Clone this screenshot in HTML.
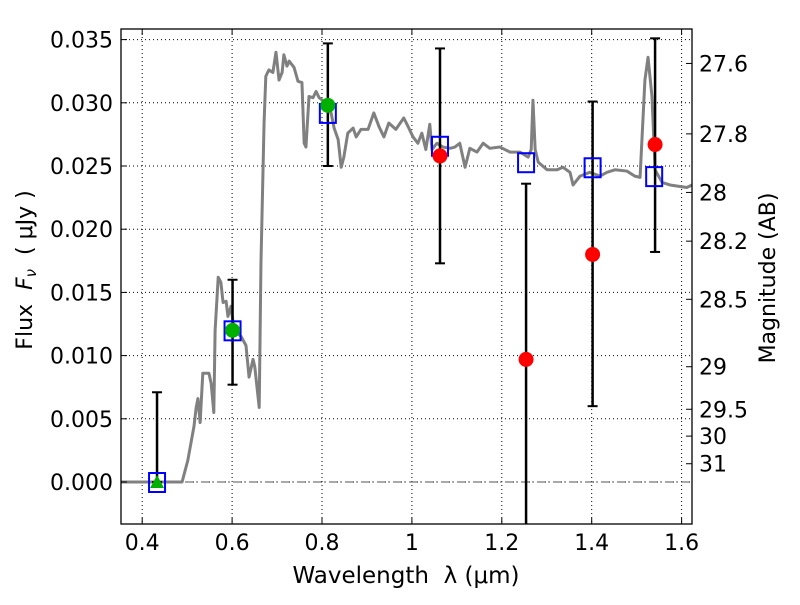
<!DOCTYPE html>
<html><head><meta charset="utf-8"><style>
body{margin:0;background:#fff}
svg text{font-family:"DejaVu Sans","Liberation Sans",sans-serif;fill:#000}
</style></head><body>
<svg id="chart" width="800" height="600" xmlns="http://www.w3.org/2000/svg">
<rect width="800" height="600" fill="#fff"/>
<g id="grid"></g>
<g id="plot"></g>
<rect x="121" y="29" width="571" height="495" fill="none" stroke="#000" stroke-width="1.3"/>
<g id="axes"></g>
<text x="406" y="583" font-size="23" text-anchor="middle" xml:space="preserve">Wavelength  λ (μm)</text>
<text transform="translate(32,270) rotate(-90)" font-size="22" text-anchor="middle" xml:space="preserve">Flux  <tspan font-style="italic">F</tspan><tspan font-size="15" dy="4" font-style="italic">ν</tspan><tspan dy="-4">  ( μJy )</tspan></text>
<text transform="translate(775,278) rotate(-90)" font-size="22" text-anchor="middle">Magnitude (AB)</text>
</svg>
<script>
const specLam=[0.353,0.4887,0.5014,0.5152,0.5201,0.5240,0.5289,0.5348,0.5417,0.5485,0.5534,0.5593,0.5622,0.5691,0.5750,0.5799,0.5867,0.5907,0.5975,0.6044,0.6201,0.6309,0.6377,0.6466,0.6505,0.6603,0.6642,0.6711,0.6750,0.6819,0.6907,0.6976,0.7044,0.7113,0.7152,0.7221,0.7270,0.7378,0.7466,0.7554,0.7603,0.7643,0.7711,0.7799,0.7868,0.7937,0.8045,0.8202,0.8270,0.8359,0.8427,0.8486,0.8574,0.8692,0.8760,0.8868,0.9025,0.9153,0.9270,0.9378,0.9486,0.9643,0.9819,0.9918,1.0025,1.0133,1.0221,1.0310,1.0398,1.0447,1.0555,1.0692,1.0849,1.0957,1.1065,1.1183,1.1290,1.1447,1.1585,1.1732,1.1957,1.2183,1.2408,1.2585,1.2654,1.2693,1.2742,1.2811,1.3007,1.3232,1.3360,1.3517,1.3586,1.3742,1.3958,1.4184,1.4340,1.4517,1.4782,1.4959,1.5076,1.5184,1.5253,1.5341,1.5410,1.5566,1.5743,1.6115,1.6233];
const specFlux=[0,0,0.0017,0.0044,0.0059,0.0066,0.0047,0.0086,0.0086,0.0086,0.0078,0.0055,0.012,0.0162,0.0158,0.0142,0.0143,0.0131,0.0139,0.012,0.0115,0.0108,0.0083,0.0097,0.0091,0.0059,0.0173,0.0284,0.0321,0.0326,0.0324,0.034,0.0318,0.0324,0.0338,0.0329,0.0333,0.0328,0.0317,0.0316,0.0268,0.0265,0.0305,0.0304,0.0309,0.0304,0.0301,0.0292,0.028,0.0271,0.0249,0.0257,0.0276,0.028,0.0273,0.0279,0.0279,0.0292,0.0281,0.0273,0.0284,0.0279,0.0288,0.0281,0.0273,0.0268,0.0276,0.0263,0.0283,0.0263,0.0268,0.0265,0.0264,0.0265,0.0268,0.0249,0.0264,0.0261,0.0268,0.0264,0.0265,0.0261,0.0261,0.0257,0.0263,0.0302,0.0263,0.0253,0.0247,0.0247,0.0249,0.0245,0.0235,0.0242,0.0245,0.0242,0.0245,0.0247,0.0246,0.0242,0.0241,0.0318,0.0336,0.0305,0.0247,0.0237,0.0235,0.0233,0.0235];
const modelLam=[0.433,0.601,0.813,1.0625,1.254,1.402,1.539];
const modelFlux=[0,0.012,0.0292,0.0266,0.0253,0.0249,0.0242];
const obsLam=[0.433,0.601,0.813,1.0625,1.254,1.402,1.541];
const obsFlux=[0,0.012,0.0298,0.0258,0.0097,0.018,0.0267];
const errLo=[0,0.0077,0.0250,0.0173,-0.01,0.006,0.0182];
const errHi=[0.0071,0.0160,0.0347,0.0343,0.0236,0.0301,0.0351];
const obsType=['tri','green','green','red','red','red','red'];
const xTicks=[0.4,0.6,0.8,1,1.2,1.4,1.6];
const xTickLabels=['0.4','0.6','0.8','1','1.2','1.4','1.6'];
const yTicks=[0,0.005,0.01,0.015,0.02,0.025,0.03,0.035];
const yTickLabels=['0.000','0.005','0.010','0.015','0.020','0.025','0.030','0.035'];
const magTicks=[27.6,27.8,28,28.2,28.5,29,29.5,30,31];
const magTickLabels=['27.6','27.8','28','28.2','28.5','29','29.5','30','31'];

const X=l=>142.2+(l-0.4)*449.5;
const Y=f=>482-f*12640;
const L=121,R=692,T=29,B=524;
const NS='http://www.w3.org/2000/svg';
function mk(tag,attrs,parent){const e=document.createElementNS(NS,tag);for(const k in attrs)e.setAttribute(k,attrs[k]);parent.appendChild(e);return e;}
const grid=document.getElementById('grid'),plot=document.getElementById('plot'),axes=document.getElementById('axes');
xTicks.forEach((t,i)=>{
  const x=X(t);
  const g=mk('line',{x1:x,x2:x,y1:T,y2:B,stroke:'#000','stroke-width':1,'stroke-dasharray':'1,3'},grid);
  
  
  mk('line',{x1:x,x2:x,y1:B,y2:B-6,stroke:'#000'},axes);
  mk('line',{x1:x,x2:x,y1:T,y2:T+6,stroke:'#000'},axes);
  const tx=mk('text',{x:x,y:B+26,'font-size':22,'text-anchor':'middle'},axes);
  tx.textContent=xTickLabels[i];
  
  
});
yTicks.forEach((t,i)=>{
  const y=Y(t);
  const g=mk('line',{x1:L,x2:R,y1:y,y2:y,stroke:'#000','stroke-width':1,'stroke-dasharray':'1,3'},grid);
  
  
  mk('line',{x1:L,x2:L+6,y1:y,y2:y,stroke:'#000'},axes);
  const tx=mk('text',{x:113,y:y+8,'font-size':22,'text-anchor':'end'},axes);
  tx.textContent=yTickLabels[i];
  
  
});
magTicks.forEach((m,i)=>{
  const y=Y(Math.pow(10,-0.4*(m-23.9)));
  mk('line',{x1:R,x2:R-6,y1:y,y2:y,stroke:'#000'},axes);
  const tx=mk('text',{x:699,y:y+8,'font-size':22},axes);
  tx.textContent=magTickLabels[i];
  
  
});
const zl=mk('line',{x1:L,x2:R,y1:Y(0),y2:Y(0),stroke:'#555','stroke-width':1,'stroke-dasharray':'8,3,2,3'},plot);


const sp=mk('polyline',{points:specLam.map((l,i)=>X(l)+','+Y(specFlux[i])).join(' '),fill:'none',stroke:'#808080','stroke-width':3,'stroke-linejoin':'round'},plot);


obsLam.forEach((l,i)=>{
  const x=X(l),y1=Math.min(Y(errLo[i]),B),y2=Y(errHi[i]);
  const e=mk('line',{x1:x,x2:x,y1:y1,y2:y2,stroke:'#000','stroke-width':2.5},plot);
  
  
  mk('line',{x1:x-5,x2:x+5,y1:y2,y2:y2,stroke:'#000','stroke-width':2},plot);
  if(Y(errLo[i])<B)mk('line',{x1:x-5,x2:x+5,y1:y1,y2:y1,stroke:'#000','stroke-width':2},plot);
});
modelLam.forEach((l,i)=>{
  const s=mk('rect',{x:X(l)-8,y:Y(modelFlux[i])-9,width:16,height:19,fill:'none',stroke:'#0000ff','stroke-width':2},plot);
  
  
});
obsLam.forEach((l,i)=>{
  const x=X(l),y=Y(obsFlux[i]);let m;
  if(obsType[i]==='tri'){m=mk('polygon',{points:`${x},${y-7} ${x-7},${y+6} ${x+7},${y+6}`,fill:'#00b000'},plot);}
  else m=mk('circle',{cx:x,cy:y,r:7.5,fill:obsType[i]==='green'?'#00b000':'#ff0000'},plot);
  
  
});
</script>
</body></html>
